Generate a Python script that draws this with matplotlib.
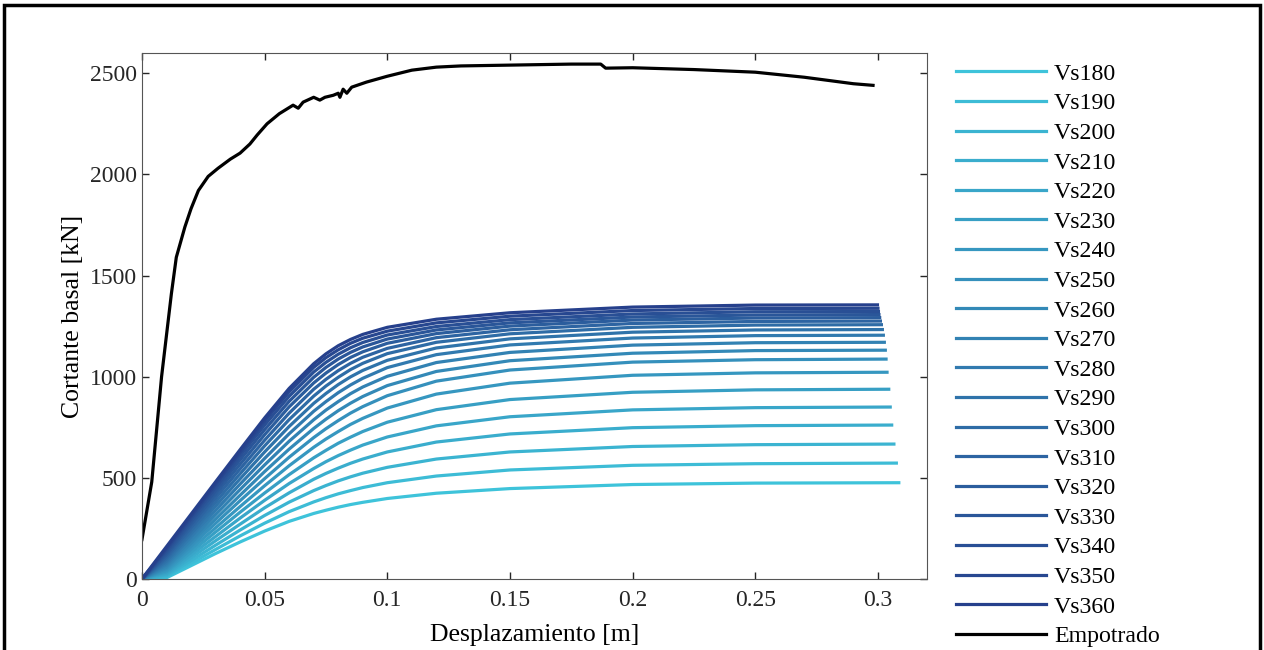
import numpy as np
import matplotlib
matplotlib.use("Agg")
import matplotlib.pyplot as plt
from matplotlib.patches import Rectangle

# desplazamiento comun para las curvas Vs (sin el ultimo punto)
vs_x = [0, 0.01, 0.02, 0.03, 0.04, 0.05, 0.06, 0.07, 0.075, 0.08, 0.085, 0.09, 0.10, 0.12, 0.15, 0.20, 0.25]
vs_xend = [0.3085, 0.3075, 0.3065, 0.3056, 0.3050, 0.3044, 0.3037, 0.3033, 0.3030, 0.3026,
           0.3022, 0.3018, 0.3014, 0.3010, 0.3007, 0.3004, 0.3002, 0.3000, 0.2998]

vs180 = [0, 6, 66, 126, 183, 237, 285, 324, 340, 355, 368, 379, 398, 424, 447, 467, 474, 476]
vs190 = [0, 10, 78, 146, 213, 276, 333, 381, 402, 421, 437, 452, 476, 509, 539, 562, 570, 573]
vs200 = [0, 15, 91, 167, 242, 314, 380, 437, 462, 485, 505, 523, 552, 593, 628, 655, 664, 667]
vs210 = [0, 21, 105, 189, 271, 352, 426, 493, 522, 548, 572, 593, 628, 677, 717, 748, 758, 761]
vs220 = [0, 27, 119, 210, 301, 389, 472, 546, 580, 610, 637, 662, 702, 757, 802, 836, 847, 850]
vs230 = [0, 35, 133, 232, 330, 425, 516, 599, 636, 671, 701, 729, 775, 837, 887, 923, 935, 938]
vs240 = [0, 42, 148, 253, 358, 461, 560, 651, 692, 729, 764, 794, 845, 914, 968, 1007, 1019, 1022]
vs250 = [0, 51, 163, 275, 387, 496, 602, 699, 743, 783, 820, 852, 906, 978, 1033, 1072, 1084, 1087]
vs260 = [0, 59, 178, 296, 414, 531, 642, 744, 790, 832, 869, 902, 956, 1026, 1079, 1116, 1129, 1131]
vs270 = [0, 69, 193, 318, 442, 564, 681, 787, 835, 877, 916, 949, 1002, 1070, 1120, 1156, 1168, 1170]
vs280 = [0, 78, 209, 339, 469, 596, 718, 829, 877, 921, 959, 992, 1045, 1109, 1157, 1191, 1203, 1205]
vs290 = [0, 88, 224, 360, 495, 628, 754, 868, 917, 961, 999, 1031, 1081, 1142, 1187, 1220, 1231, 1233]
vs300 = [0, 99, 239, 380, 520, 658, 788, 904, 954, 997, 1035, 1066, 1114, 1170, 1212, 1244, 1255, 1257]
vs310 = [0, 109, 254, 400, 544, 686, 820, 938, 987, 1030, 1066, 1096, 1140, 1193, 1232, 1263, 1273, 1275]
vs320 = [0, 120, 269, 419, 567, 713, 851, 969, 1018, 1060, 1095, 1123, 1165, 1213, 1250, 1280, 1290, 1292]
vs330 = [0, 130, 283, 437, 589, 738, 878, 997, 1046, 1087, 1120, 1147, 1186, 1231, 1266, 1295, 1305, 1307]
vs340 = [0, 141, 297, 453, 609, 761, 903, 1023, 1071, 1111, 1143, 1169, 1206, 1248, 1282, 1310, 1321, 1322]
vs350 = [0, 151, 309, 468, 626, 781, 925, 1046, 1094, 1133, 1165, 1190, 1225, 1266, 1299, 1327, 1337, 1338]
vs360 = [0, 160, 320, 480, 639, 796, 942, 1064, 1113, 1153, 1184, 1209, 1244, 1284, 1316, 1344, 1354, 1355]

vs_curvas = [vs180, vs190, vs200, vs210, vs220, vs230, vs240, vs250, vs260, vs270,
             vs280, vs290, vs300, vs310, vs320, vs330, vs340, vs350, vs360]
vs_labels = ["Vs180", "Vs190", "Vs200", "Vs210", "Vs220", "Vs230", "Vs240", "Vs250", "Vs260", "Vs270",
             "Vs280", "Vs290", "Vs300", "Vs310", "Vs320", "Vs330", "Vs340", "Vs350", "Vs360"]

emp_x = [0, 0.004, 0.008, 0.012, 0.014, 0.0175, 0.020, 0.023, 0.027, 0.031, 0.036, 0.040, 0.044, 0.047,
         0.051, 0.056, 0.0616, 0.0637, 0.0657, 0.070, 0.0725, 0.0746, 0.078, 0.080, 0.0807, 0.082, 0.0835,
         0.0855, 0.0915, 0.100, 0.110, 0.120, 0.130, 0.150, 0.175, 0.187, 0.189, 0.200, 0.225, 0.250,
         0.270, 0.290, 0.298]
emp_y = [195, 480, 1000, 1410, 1590, 1740, 1830, 1920, 1990, 2030, 2075, 2105, 2150, 2195,
         2250, 2300, 2342, 2327, 2357, 2381, 2367, 2381, 2391, 2401, 2381, 2421, 2401,
         2431, 2456, 2485, 2515, 2530, 2536, 2540, 2545, 2545, 2525, 2527, 2518, 2505,
         2480, 2448, 2440]

plt.rcParams['font.family'] = ['Liberation Serif', 'DejaVu Serif']
fig = plt.figure(figsize=(12.64, 6.5), dpi=100)
ax = fig.add_axes([0.1123, 0.1092, 0.6211, 0.8093])

c0 = np.array([0x3e, 0xc3, 0xda]) / 255
c1 = np.array([0x26, 0x40, 0x8c]) / 255
n = len(vs_curvas)
for i in range(n):
    t = i / (n - 1)
    ax.plot(vs_x + [vs_xend[i]], vs_curvas[i], color=c0 * (1 - t) + c1 * t, lw=2.3, label=vs_labels[i])
ax.plot(emp_x, emp_y, color='black', lw=2.3, label="Empotrado")

ax.set_xlim(0, 0.32)
ax.set_ylim(0, 2600)
ax.set_xticks([0, 0.05, 0.1, 0.15, 0.2, 0.25, 0.3])
ax.set_xticklabels(["0", "0.05", "0.1", "0.15", "0.2", "0.25", "0.3"])
ax.set_yticks([0, 500, 1000, 1500, 2000, 2500])
ax.tick_params(direction='in', top=True, right=True, length=5, width=1, colors='#262626', labelsize=17)
ax.tick_params(axis='x', pad=8)
for s in ax.spines.values():
    s.set_color('#555555')
ax.set_xlabel("Desplazamiento [m]", fontsize=18.5, labelpad=9)
ax.set_ylabel("Cortante basal [kN]", fontsize=18.5, labelpad=4)

ax.legend(loc='upper left', bbox_to_anchor=(956 / 1264, 1 - 63 / 650), bbox_transform=fig.transFigure,
          frameon=False, fontsize=17.2, handlelength=3.77, handletextpad=0.33, labelspacing=0.33,
          borderaxespad=0, borderpad=0)

fig.patches.append(Rectangle((4 / 1264, -0.1), 1256 / 1264, 1.1 - 5 / 650, transform=fig.transFigure,
                             fill=False, edgecolor='black', lw=2.5))
fig.savefig("out.png")
